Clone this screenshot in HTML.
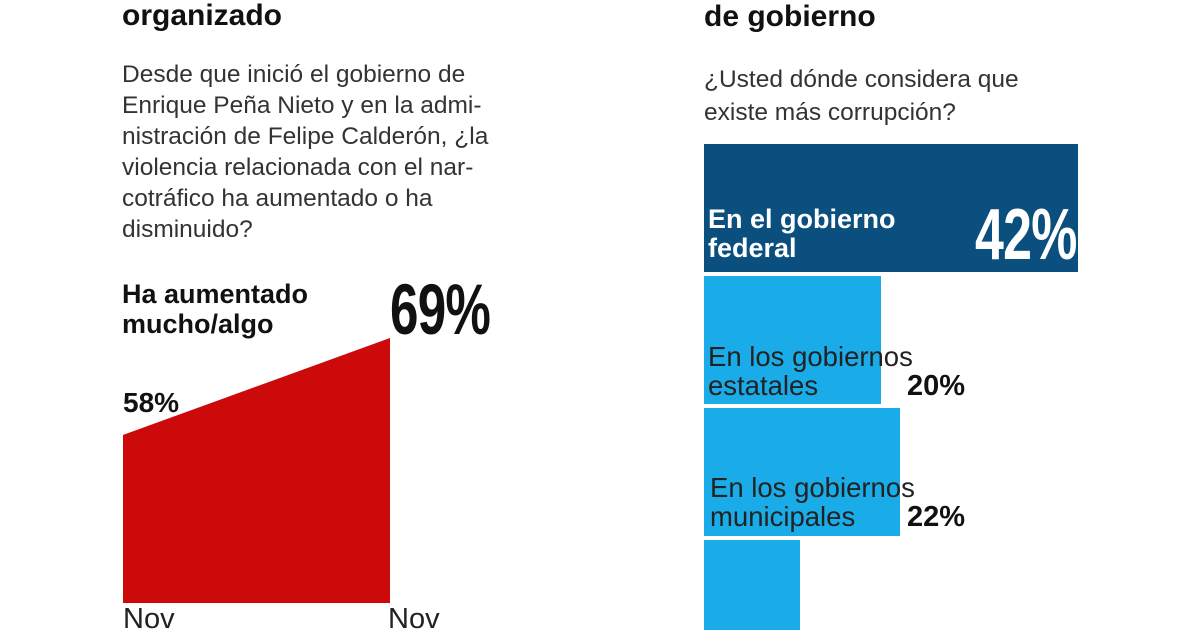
<!DOCTYPE html>
<html><head><meta charset="utf-8"><style>
body{margin:0;width:1200px;height:630px;background:#fff;position:relative;overflow:hidden;font-family:"Liberation Sans",sans-serif;color:#222}
div{position:absolute;white-space:nowrap}
.b{font-weight:bold;color:#111}
.q{font-size:24.5px;line-height:31px;color:#333}
.big{font-weight:bold;transform-origin:left top;transform:scaleX(0.72);letter-spacing:-1px}
.lab{font-size:27.5px;line-height:29px}
</style></head><body>
<div class="b" style="left:122px;top:-1px;font-size:30px">organizado</div>
<div class="q" style="left:122px;top:59px">Desde que inició el gobierno de<br>Enrique Peña Nieto y en la admi-<br>nistración de Felipe Calderón, ¿la<br>violencia relacionada con el nar-<br>cotráfico ha aumentado o ha<br>disminuido?</div>
<div class="b" style="left:122px;top:279px;font-size:27px;line-height:30px">Ha aumentado<br>mucho/algo</div>
<div class="big" style="left:390px;top:270px;font-size:71px;color:#111">69%</div>
<div class="b" style="left:123px;top:387px;font-size:28px">58%</div>
<svg style="position:absolute;left:0;top:0" width="1200" height="630">
<polygon points="123,435 390,338 390,603 123,603" fill="#cc0a0a"/>
<rect x="704" y="144" width="374" height="128" fill="#0b4f7e"/>
<rect x="704" y="276" width="177" height="128" fill="#19ace8"/>
<rect x="704" y="408" width="196" height="128" fill="#19ace8"/>
<rect x="704" y="540" width="96" height="90" fill="#19ace8"/>
</svg>
<div style="left:123px;top:603px;font-size:29px;color:#222">Nov</div>
<div style="left:388px;top:603px;font-size:29px;color:#222">Nov</div>
<div class="b" style="left:704px;top:0px;font-size:30px">de gobierno</div>
<div class="q" style="left:704px;top:63px;line-height:33px">¿Usted dónde considera que<br>existe más corrupción?</div>
<div class="lab" style="left:708px;top:205px;color:#fff;font-weight:bold;font-size:27px">En el gobierno<br>federal</div>
<div class="big" style="left:975px;top:194px;font-size:72px;color:#fff">42%</div>
<div class="lab" style="left:708px;top:342px;color:#222">En los gobiernos<br>estatales</div>
<div class="b" style="left:907px;top:370px;font-size:29px">20%</div>
<div class="lab" style="left:710px;top:473px;color:#222">En los gobiernos<br>municipales</div>
<div class="b" style="left:907px;top:501px;font-size:29px">22%</div>
</body></html>
